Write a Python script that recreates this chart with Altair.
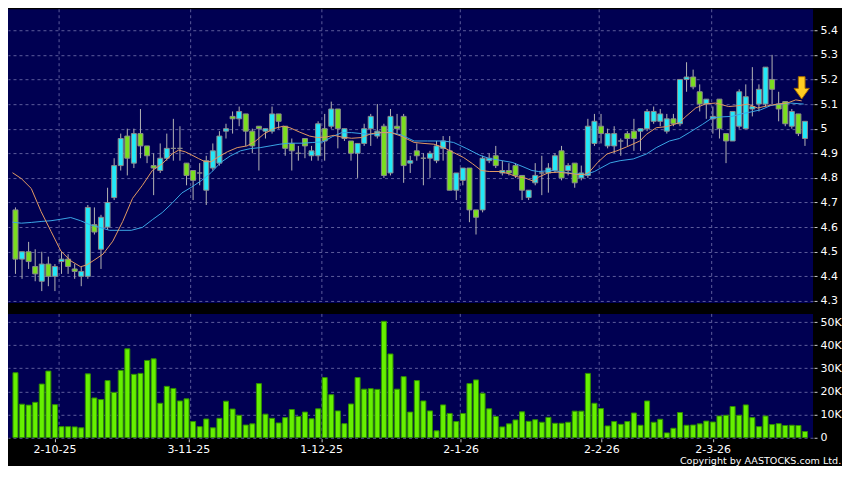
import altair as alt
import pandas as pd

# ---------------- data ----------------
opens = [4.67, 4.47, 4.50, 4.44, 4.38, 4.45, 4.40, 4.46, 4.47, 4.43,
         4.40, 4.40, 4.61, 4.51, 4.60, 4.72, 4.85, 4.97, 4.86, 4.98,
         4.93, 4.85, 4.83, 4.88, 4.92, 4.92, 4.86, 4.83, 4.82, 4.75,
         4.84, 4.86, 4.99, 5.05, 5.04, 5.06, 4.99, 5.01, 4.99, 4.99,
         5.06, 5.01, 4.94, 4.90, 4.96, 4.89, 4.89, 5.00, 5.01, 5.08,
         4.96, 4.95, 4.90, 4.94, 5.00, 4.97, 5.01, 4.82, 5.01, 5.05,
         4.86, 4.91, 4.88, 4.88, 4.87, 4.92, 4.91, 4.75, 4.79, 4.84,
         4.67, 4.67, 4.87, 4.89, 4.82, 4.83, 4.85, 4.81, 4.72, 4.78,
         4.82, 4.82, 4.83, 4.91, 4.83, 4.86, 4.80, 4.81, 4.94, 5.01,
         4.93, 4.93, 4.95, 4.98, 4.99, 4.99, 5.00, 5.03, 5.03, 4.99,
         5.04, 5.02, 5.20, 5.21, 5.15, 5.10, 5.04, 5.12, 4.98, 4.95,
         5.01, 5.00, 5.08, 5.10, 5.10, 5.20, 5.10, 5.11, 5.01, 5.06,
         4.96]
highs = [4.68, 4.50, 4.54, 4.51, 4.50, 4.48, 4.45, 4.50, 4.49, 4.45,
         4.44, 4.69, 4.68, 4.65, 4.76, 4.88, 4.98, 5.00, 5.00, 5.08,
         4.93, 4.90, 4.94, 4.98, 5.04, 5.01, 4.86, 4.83, 4.86, 4.89,
         4.94, 4.99, 5.02, 5.07, 5.09, 5.06, 5.00, 5.01, 5.00, 5.09,
         5.06, 5.01, 4.96, 4.93, 4.96, 4.93, 5.03, 5.06, 5.11, 5.08,
         5.00, 4.95, 4.94, 5.02, 5.06, 5.10, 5.02, 5.08, 5.06, 5.06,
         4.89, 4.94, 4.90, 4.91, 4.95, 4.97, 4.97, 4.82, 4.84, 4.84,
         4.67, 4.89, 4.90, 4.93, 4.87, 4.86, 4.86, 4.81, 4.75, 4.86,
         4.89, 4.86, 4.90, 4.93, 4.86, 4.86, 4.85, 5.04, 5.06, 5.06,
         5.00, 5.01, 4.96, 4.99, 5.04, 5.00, 5.08, 5.09, 5.08, 5.06,
         5.06, 5.20, 5.27, 5.24, 5.18, 5.12, 5.09, 5.12, 4.98, 5.07,
         5.16, 5.18, 5.25, 5.18, 5.25, 5.30, 5.15, 5.11, 5.08, 5.06,
         5.03]
lows = [4.41, 4.39, 4.43, 4.38, 4.34, 4.36, 4.34, 4.41, 4.41, 4.39,
        4.36, 4.39, 4.57, 4.43, 4.59, 4.71, 4.83, 4.81, 4.84, 4.88,
        4.86, 4.73, 4.82, 4.87, 4.87, 4.87, 4.77, 4.71, 4.77, 4.69,
        4.83, 4.85, 4.96, 4.98, 5.01, 4.93, 4.90, 4.83, 4.96, 4.98,
        5.00, 4.89, 4.83, 4.87, 4.88, 4.87, 4.87, 4.87, 5.00, 4.92,
        4.95, 4.87, 4.80, 4.93, 4.93, 4.96, 4.80, 4.81, 4.98, 4.78,
        4.82, 4.87, 4.77, 4.80, 4.86, 4.87, 4.75, 4.71, 4.77, 4.62,
        4.57, 4.66, 4.86, 4.84, 4.81, 4.81, 4.80, 4.71, 4.71, 4.77,
        4.73, 4.74, 4.82, 4.79, 4.81, 4.76, 4.79, 4.80, 4.93, 4.94,
        4.92, 4.90, 4.89, 4.93, 4.91, 4.91, 4.99, 5.02, 5.01, 4.98,
        5.01, 5.01, 5.15, 5.16, 5.07, 5.04, 4.98, 4.96, 4.86, 4.95,
        5.00, 5.00, 5.05, 5.07, 5.09, 5.10, 5.03, 5.01, 5.00, 4.97,
        4.93]
closes = [4.47, 4.50, 4.46, 4.41, 4.45, 4.40, 4.44, 4.47, 4.44, 4.42,
          4.42, 4.68, 4.58, 4.64, 4.70, 4.85, 4.96, 4.88, 4.98, 4.93,
          4.89, 4.84, 4.88, 4.92, 4.92, 4.92, 4.81, 4.79, 4.82, 4.87,
          4.91, 4.97, 5.00, 5.04, 5.07, 4.99, 4.93, 5.00, 5.00, 5.06,
          5.03, 4.92, 4.91, 4.90, 4.93, 4.91, 5.02, 4.95, 5.08, 5.00,
          5.00, 4.90, 4.94, 5.00, 5.05, 4.99, 4.81, 5.05, 5.00, 4.85,
          4.87, 4.89, 4.88, 4.90, 4.93, 4.95, 4.75, 4.82, 4.84, 4.67,
          4.64, 4.88, 4.88, 4.85, 4.83, 4.82, 4.81, 4.75, 4.75, 4.81,
          4.82, 4.84, 4.89, 4.80, 4.85, 4.78, 4.82, 5.01, 5.03, 4.98,
          4.98, 4.98, 4.95, 4.96, 4.96, 5.00, 5.07, 5.07, 5.06, 5.04,
          5.02, 5.20, 5.21, 5.17, 5.10, 5.12, 5.05, 5.00, 4.95, 5.07,
          5.15, 5.13, 5.09, 5.16, 5.25, 5.16, 5.08, 5.02, 5.07, 4.98,
          5.03]
volumes_k = [28.1, 14.5, 14.1, 15.3, 23.2, 28.8, 14.3, 4.8, 4.8, 4.7,
             4.3, 27.6, 17.2, 16.5, 24.7, 19.6, 29.1, 38.4, 27.4, 27.8,
             33.4, 34.1, 14.9, 22.2, 21.3, 15.9, 16.8, 7.0, 4.8, 8.1,
             4.3, 8.4, 15.8, 12.4, 9.7, 5.5, 6.0, 23.4, 10.2, 8.4,
             6.4, 8.7, 12.2, 9.2, 11.1, 8.2, 12.5, 26.0, 18.6, 11.6,
             6.1, 14.6, 26.0, 21.0, 21.2, 20.9, 50.3, 36.2, 21.0, 26.4,
             11.1, 24.7, 15.9, 11.6, 3.0, 14.2, 10.5, 7.0, 10.5, 23.4,
             25.0, 19.2, 12.5, 9.2, 4.7, 6.0, 7.7, 11.2, 7.1, 7.8,
             6.7, 8.8, 6.25, 6.25, 6.7, 11.5, 11.5, 27.8, 14.9, 12.6,
             5.1, 7.0, 5.8, 7.0, 10.7, 5.4, 15.9, 6.7, 8.0, 2.1,
             4.1, 10.9, 5.4, 5.5, 6.0, 7.2, 6.8, 9.4, 9.7, 13.5,
             9.7, 14.2, 8.7, 4.8, 9.4, 5.7, 6.1, 5.3, 5.4, 5.3,
             2.7]

ma_short_idx = [0.55, 1.9, 3.4, 4.9, 6.4, 7.9, 9.4, 10.9, 11.8, 12.8,
                14.3, 15.8, 17.3, 18.8, 20.3, 21.8, 23.3, 24.8, 25.8, 26.8,
                27.8, 28.8, 29.8, 30.75, 31.7, 33.2, 34.7, 36.2, 37.5, 38.7,
                40.2, 41.7, 42.7, 44.2, 45.7, 46.9, 48.2, 49.4, 50.6, 52.1,
                53.6, 55.1, 56.6, 58.1, 59.6, 61.6, 63.1, 64.6, 66.1, 67.6,
                69.1, 70.5, 71.8, 73.0, 74.5, 76.0, 77.0, 78.5, 79.8, 80.5,
                82.0, 83.5, 85.0, 86.5, 87.5, 88.2, 89.5, 90.9, 92.4, 93.9,
                95.9, 96.9, 98.4, 99.9, 101.9, 102.9, 104.4, 105.9, 107.4, 108.4,
                109.4, 110.8, 112.3, 113.8, 115.3, 116.8, 118.3, 119.6, 120.5]
ma_short_val = [4.821, 4.797, 4.757, 4.663, 4.583, 4.503, 4.463, 4.439, 4.446, 4.463,
                4.490, 4.543, 4.623, 4.717, 4.770, 4.830, 4.857, 4.897, 4.913, 4.906,
                4.893, 4.879, 4.866, 4.866, 4.883, 4.906, 4.923, 4.930, 4.950, 4.977,
                5.000, 5.010, 5.004, 4.986, 4.970, 4.964, 4.966, 4.973, 4.966, 4.961,
                4.964, 4.980, 4.984, 4.984, 4.970, 4.944, 4.940, 4.937, 4.923, 4.903,
                4.883, 4.857, 4.830, 4.826, 4.826, 4.817, 4.806, 4.799, 4.786, 4.803,
                4.821, 4.823, 4.819, 4.814, 4.814, 4.823, 4.863, 4.897, 4.910, 4.926,
                4.950, 4.977, 5.004, 5.008, 5.024, 5.050, 5.084, 5.101, 5.104, 5.097,
                5.090, 5.093, 5.100, 5.084, 5.093, 5.100, 5.104, 5.117, 5.113]

ma_long_idx = [0.55, 1.9, 3.4, 4.9, 6.4, 7.9, 9.4, 10.9, 12.3, 13.8,
               15.3, 16.8, 18.6, 20.3, 21.8, 23.3, 24.8, 26.3, 27.8, 29.3,
               30.8, 32.2, 33.7, 35.2, 36.7, 38.2, 39.7, 41.2, 42.7, 44.7,
               46.2, 47.7, 49.2, 50.6, 52.1, 53.6, 55.1, 56.6, 58.1, 59.6,
               61.6, 63.6, 66.1, 67.6, 69.6, 71.5, 73.0, 75.0, 76.5, 78.0,
               79.5, 80.5, 82.5, 84.5, 86.0, 87.5, 89.0, 91.4, 92.9, 94.9,
               96.9, 98.4, 100.4, 101.9, 103.4, 105.4, 106.9, 108.4, 109.9, 111.3,
               112.8, 114.3, 115.8, 117.3, 118.8, 120.8]
ma_long_val = [4.620, 4.616, 4.619, 4.623, 4.626, 4.632, 4.639, 4.626, 4.610, 4.599,
               4.587, 4.587, 4.587, 4.599, 4.630, 4.659, 4.697, 4.739, 4.763, 4.790,
               4.823, 4.863, 4.890, 4.910, 4.919, 4.923, 4.930, 4.937, 4.941, 4.941,
               4.944, 4.946, 4.968, 4.984, 4.984, 4.980, 4.977, 4.984, 4.984, 4.975,
               4.950, 4.950, 4.950, 4.944, 4.919, 4.893, 4.879, 4.870, 4.863, 4.847,
               4.830, 4.826, 4.830, 4.823, 4.817, 4.813, 4.826, 4.861, 4.870, 4.877,
               4.897, 4.923, 4.950, 4.960, 4.984, 5.017, 5.044, 5.048, 5.050, 5.060,
               5.068, 5.077, 5.094, 5.100, 5.104, 5.100]

date_labels = ["2-10-25", "3-11-25", "1-12-25", "2-1-26", "2-2-26", "2-3-26"]
date_label_pos = [6.93, 27.27, 47.46, 68.67, 90.06, 106.97]
date_grid_pos = [7.63, 27.63, 47.57, 68.61, 89.72, 106.82]
price_ticks = [4.3, 4.4, 4.5, 4.6, 4.7, 4.8, 4.9, 5.0, 5.1, 5.2, 5.3, 5.4]
volume_ticks = [0, 10000, 20000, 30000, 40000, 50000]
arrow_x = [120.5]
arrow_y = [5.166]
copyright_text = "Copyright by AASTOCKS.com Ltd."

# ---------------- styling ----------------
BG = "#000000"
PANEL = "#000052"
GRID = "#5c5c9c"
CYAN = "#22e8f8"
GREEN = "#7ade1e"
VGREEN = "#66f000"
ORANGE = "#e29a62"
BLUE = "#3aa6e6"
FONT = "DejaVu Sans"
PANEL_W = 806

n = len(opens)
df = pd.DataFrame({
    "i": list(range(1, n + 1)),
    "open": opens, "high": highs, "low": lows, "close": closes,
    "volume": [v * 1000 for v in volumes_k],
})
ma_s = pd.DataFrame({"i": ma_short_idx, "v": ma_short_val})
ma_l = pd.DataFrame({"i": ma_long_idx, "v": ma_long_val})
grid_df = pd.DataFrame({"i": date_grid_pos})
arrow_df = pd.DataFrame({"i": arrow_x, "p": arrow_y})

xs = alt.Scale(domain=[0.625, 121.465], nice=False, zero=False)
ys = alt.Scale(domain=[4.292, 5.4852], nice=False, zero=False)
vs = alt.Scale(domain=[0, 53500], nice=False, zero=False)

axis_common = dict(
    domain=False, tickColor="#cccccc", tickSize=3, tickWidth=1,
    labelColor="#ffffff", labelFont=FONT, labelFontSize=11,
    labelPadding=3, labelFlush=False, labelOverlap=False, labelBound=False,
    gridColor=GRID, gridDash=[3, 3], gridWidth=1, title=None,
)

price_axis = alt.Axis(orient="right", values=price_ticks, format=".2~f",
                      grid=True, offset=1, **axis_common)

vol_label_expr = "datum.value == 0 ? '0' : format(datum.value / 1000, 'd') + 'K'"
vol_axis = alt.Axis(orient="right", values=volume_ticks, labelExpr=vol_label_expr,
                    grid=True, offset=1, **axis_common)

# label expression for dates built from the lists
expr = "''"
for k in range(len(date_labels) - 1, -1, -1):
    expr = f"abs(datum.value - {date_label_pos[k]}) < 0.01 ? '{date_labels[k]}' : ({expr})"
x_axis = alt.Axis(values=date_label_pos, labelExpr=expr, grid=False,
                  domain=False, tickColor="#cccccc", tickSize=3, offset=1,
                  labelColor="#ffffff", labelFont=FONT, labelFontSize=11,
                  labelPadding=2, labelFlush=False, labelOverlap=False,
                  labelBound=False, labelAlign="center", title=None)

X_NONE = alt.X("i:Q", scale=xs, axis=None)

# ---------------- price panel ----------------
vgrid_p = alt.Chart(grid_df).mark_rule(color=GRID, strokeDash=[3, 3], strokeWidth=1).encode(
    x=X_NONE)

base = alt.Chart(df)
wicks = base.mark_rule(color="#b4b4b4", strokeWidth=1, clip=True).encode(
    x=X_NONE,
    y=alt.Y("low:Q", scale=ys, axis=price_axis),
    y2="high:Q",
)
bodies = base.mark_bar(size=5, stroke="#8c8c8c", strokeWidth=1, clip=True).encode(
    x=X_NONE,
    y=alt.Y("open:Q", scale=ys, axis=price_axis),
    y2="close:Q",
    color=alt.condition("datum.close >= datum.open", alt.value(CYAN), alt.value(GREEN)),
)
line_s = alt.Chart(ma_s).mark_line(color=ORANGE, strokeWidth=1, clip=True).encode(
    x=X_NONE, y=alt.Y("v:Q", scale=ys, axis=price_axis))
line_l = alt.Chart(ma_l).mark_line(color=BLUE, strokeWidth=1, clip=True).encode(
    x=X_NONE, y=alt.Y("v:Q", scale=ys, axis=price_axis))

arrow_shape = "M-0.3,-1L0.3,-1L0.3,0.05L0.68,0.05L0,1L-0.68,0.05L-0.3,0.05Z"
arrow = alt.Chart(arrow_df).mark_point(
    shape=arrow_shape, size=500, filled=True, fill="#ffcc22", stroke="#a86a00",
    strokeWidth=1, opacity=1).encode(
    x=X_NONE, y=alt.Y("p:Q", scale=ys, axis=price_axis))

price = alt.layer(wicks, vgrid_p, bodies, line_l, line_s, arrow).properties(
    width=PANEL_W, height=294)

# ---------------- volume panel ----------------
X_VOL = alt.X("i:Q", scale=xs, axis=x_axis)
vbars = alt.Chart(df).mark_bar(size=5, color=VGREEN, stroke="#2f8f00", strokeWidth=1,
                               clip=True).encode(
    x=X_VOL,
    y=alt.Y("volume:Q", scale=vs, axis=vol_axis),
)
vgrid_v = alt.Chart(grid_df).mark_rule(color=GRID, strokeDash=[3, 3], strokeWidth=1).encode(
    x=X_VOL)
volume = alt.layer(vgrid_v, vbars).properties(width=PANEL_W, height=124)

chart = alt.vconcat(price, volume, spacing=11, bounds="flush").properties(
    padding={"left": 0, "top": 0, "right": 0, "bottom": 0},
    title=alt.TitleParams(copyright_text, orient="bottom", anchor="end",
                          color="#ffffff", font=FONT, fontSize=9.6,
                          fontWeight="normal", offset=1),
).configure(background=BG).configure_view(fill=PANEL, strokeWidth=0)

chart.save("out.html", embed_options={"renderer": "svg", "actions": False})
